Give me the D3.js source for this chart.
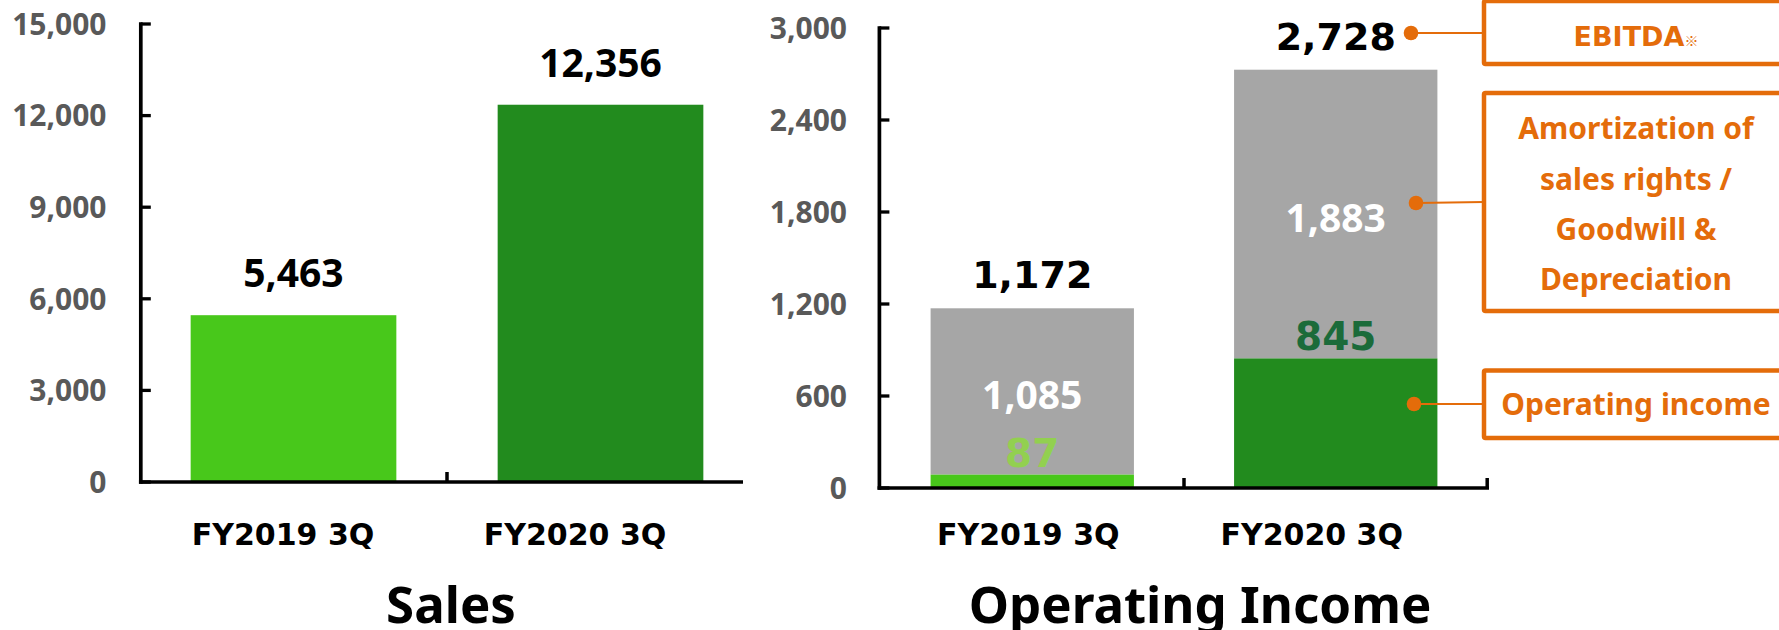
<!DOCTYPE html>
<html>
<head>
<meta charset="utf-8">
<script src="https://cdn.jsdelivr.net/npm/d3@7"></script>
<style>
  html, body { margin: 0; padding: 0; background: #ffffff; }
  svg { display: block; }
</style>
</head>
<body>
<svg id="chart" width="1779" height="630"></svg>
<script>
// ---------- data ----------
const categories = ["FY2019 3Q", "FY2020 3Q"];
const salesValues = [5463, 12356];
const salesTicks = [0, 3000, 6000, 9000, 12000, 15000];
const opIncomeValues = [87, 845];
const amortValues = [1085, 1883];
const ebitdaValues = [1172, 2728];
const opTicks = [0, 600, 1200, 1800, 2400, 3000];
const chartTitles = ["Sales", "Operating Income"];
const legendEbitda = "EBITDA";
const legendAmort = ["Amortization of", "sales rights /", "Goodwill &", "Depreciation"];
const legendOp = "Operating income";

// ---------- styles ----------
const C = {
  light: "#48C81B", dark: "#228B1E", gray: "#A6A6A6", orange: "#E46C0A",
  tick: "#595959", lbl87: "#92D050", lbl845: "#1B6B3A"
};
const NOTO = "'Noto Sans', 'Open Sans', sans-serif";
const DEJA = "'DejaVu Sans', Verdana, sans-serif";
const fmt = d3.format(",");
const svg = d3.select("#chart");
const AX = 3.7;

function drawAxes(g, x, y, ticks, axisX, axisEnd, endTick, labelRight) {
  const y0 = y(0);
  // y axis line
  g.append("line").attr("x1", axisX).attr("x2", axisX)
    .attr("y1", y(ticks[ticks.length - 1]) - AX / 2).attr("y2", y0 + AX / 2)
    .attr("stroke", "#000").attr("stroke-width", AX);
  // y ticks
  g.selectAll(".yt").data(ticks).join("line")
    .attr("x1", axisX).attr("x2", axisX + 10)
    .attr("y1", d => y(d)).attr("y2", d => y(d))
    .attr("stroke", "#000").attr("stroke-width", 3.3);
  g.selectAll(".yl").data(ticks).join("text")
    .attr("x", labelRight).attr("y", d => y(d) + 10.7)
    .attr("text-anchor", "end")
    .attr("font-family", NOTO).attr("font-weight", 700).attr("font-size", 30)
    .attr("fill", C.tick).text(d => fmt(d));
  // x axis line
  g.append("line").attr("x1", axisX - AX / 2).attr("x2", axisEnd)
    .attr("y1", y0).attr("y2", y0)
    .attr("stroke", "#000").attr("stroke-width", AX);
  // middle category separator tick
  const mid = (x(categories[0]) + x.bandwidth() + x(categories[1])) / 2;
  const sepTicks = endTick ? [mid, axisEnd - 1.8] : [mid];
  g.selectAll(".xt").data(sepTicks).join("line")
    .attr("x1", d => d).attr("x2", d => d)
    .attr("y1", y0 - 10).attr("y2", y0)
    .attr("stroke", "#000").attr("stroke-width", 3.5);
}

// ---------- Sales chart ----------
{
  const g = svg.append("g");
  const x = d3.scaleBand().domain(categories).range([140, 754])
    .paddingInner(0.33).paddingOuter(0.165);
  const y = d3.scaleLinear().domain([0, 15000]).range([482, 24]);
  const colors = [C.light, C.dark];
  g.selectAll(".bar").data(salesValues).join("rect")
    .attr("x", (d, i) => x(categories[i])).attr("width", x.bandwidth())
    .attr("y", d => y(d)).attr("height", d => y(0) - y(d))
    .attr("fill", (d, i) => colors[i]);
  drawAxes(g, x, y, salesTicks, 140.8, 743, false, 106.5);
  g.selectAll(".vl").data(salesValues).join("text")
    .attr("x", (d, i) => x(categories[i]) + x.bandwidth() / 2)
    .attr("y", d => y(d) - 28)
    .attr("text-anchor", "middle")
    .attr("font-family", NOTO).attr("font-weight", 700).attr("font-size", 39)
    .attr("fill", "#000").text(d => fmt(d));
  const nudge = [-10.5, -25.5];
  g.selectAll(".cl").data(categories).join("text")
    .attr("x", (d, i) => x(d) + x.bandwidth() / 2 + nudge[i]).attr("y", 544.5)
    .attr("text-anchor", "middle")
    .attr("font-family", DEJA).attr("font-weight", 700).attr("font-size", 30)
    .attr("fill", "#000").text(d => d);
  g.append("text").attr("x", 451).attr("y", 623)
    .attr("text-anchor", "middle")
    .attr("font-family", NOTO).attr("font-weight", 700).attr("font-size", 51)
    .attr("fill", "#000").text(chartTitles[0]);
}

// ---------- Operating income chart ----------
{
  const g = svg.append("g");
  const x = d3.scaleBand().domain(categories).range([879, 1489])
    .paddingInner(0.33).paddingOuter(0.17);
  const y = d3.scaleLinear().domain([0, 3000]).range([488, 28]);
  const baseColors = [C.light, C.dark];
  const stack = categories.map((c, i) => ({ c, op: opIncomeValues[i], am: amortValues[i], tot: ebitdaValues[i] }));
  // gray (amortization) segment on top of operating income
  g.selectAll(".am").data(stack).join("rect")
    .attr("x", d => x(d.c)).attr("width", x.bandwidth())
    .attr("y", d => y(d.op + d.am)).attr("height", d => y(d.op) - y(d.op + d.am))
    .attr("fill", C.gray);
  g.selectAll(".op").data(stack).join("rect")
    .attr("x", d => x(d.c)).attr("width", x.bandwidth())
    .attr("y", d => y(d.op)).attr("height", d => y(0) - y(d.op))
    .attr("fill", (d, i) => baseColors[i]);
  drawAxes(g, x, y, opTicks, 879.4, 1489, true, 847);
  const cx = d => x(d.c) + x.bandwidth() / 2;
  // EBITDA totals
  g.selectAll(".tl").data(stack).join("text")
    .attr("x", cx).attr("y", d => y(d.tot) - 20)
    .attr("text-anchor", "middle")
    .attr("font-family", DEJA).attr("font-weight", 700).attr("font-size", 38)
    .attr("fill", "#000").text(d => fmt(d.tot));
  // amortization labels
  g.selectAll(".al").data(stack).join("text")
    .attr("x", cx).attr("y", d => (y(d.op) + y(d.op + d.am)) / 2 + 18)
    .attr("text-anchor", "middle")
    .attr("font-family", NOTO).attr("font-weight", 700).attr("font-size", 39)
    .attr("fill", "#fff").text(d => fmt(d.am));
  // operating income labels
  const opLblColors = [C.lbl87, C.lbl845];
  g.selectAll(".ol").data(stack).join("text")
    .attr("x", cx).attr("y", d => y(d.op) - 8)
    .attr("text-anchor", "middle")
    .attr("font-family", DEJA).attr("font-weight", 700).attr("font-size", 39)
    .attr("fill", (d, i) => opLblColors[i]).text(d => fmt(d.op));
  const nudge = [-4, -24];
  g.selectAll(".cl").data(categories).join("text")
    .attr("x", (d, i) => x(d) + x.bandwidth() / 2 + nudge[i]).attr("y", 544.5)
    .attr("text-anchor", "middle")
    .attr("font-family", DEJA).attr("font-weight", 700).attr("font-size", 30)
    .attr("fill", "#000").text(d => d);
  g.append("text").attr("x", 1200).attr("y", 623)
    .attr("text-anchor", "middle")
    .attr("font-family", NOTO).attr("font-weight", 700).attr("font-size", 51)
    .attr("fill", "#000").text(chartTitles[1]);

  // ---------- annotation boxes ----------
  const boxX = 1484, textCX = 1636;
  const ann = g.append("g");
  const boxes = [[1, 64], [93, 311], [370.5, 438]];
  ann.selectAll(".box").data(boxes).join("rect")
    .attr("x", boxX).attr("y", d => d[0]).attr("width", 400).attr("height", d => d[1] - d[0])
    .attr("fill", "#fff").attr("stroke", C.orange).attr("stroke-width", 4.5)
    .attr("rx", 1.5);
  const dots = [[1411, 33, 33], [1416, 203, 202], [1414, 404, 404]];
  ann.selectAll(".lk").data(dots).join("line")
    .attr("x1", d => d[0]).attr("y1", d => d[1]).attr("x2", boxX).attr("y2", d => d[2])
    .attr("stroke", C.orange).attr("stroke-width", 2);
  ann.selectAll(".dot").data(dots).join("circle")
    .attr("cx", d => d[0]).attr("cy", d => d[1]).attr("r", 7.3)
    .attr("fill", C.orange);
  const eb = ann.append("text").attr("x", textCX).attr("y", 45.5)
    .attr("text-anchor", "middle").attr("fill", C.orange)
    .attr("font-family", DEJA).attr("font-weight", 700).attr("font-size", 27);
  eb.append("tspan").text(legendEbitda);
  eb.append("tspan").attr("font-size", 14).attr("font-weight", 400)
    .attr("font-family", "'Noto Sans CJK JP', sans-serif").text("※");
  const amBase = [138.6, 189.6, 240, 290];
  ann.selectAll(".amt").data(legendAmort).join("text")
    .attr("x", textCX).attr("y", (d, i) => amBase[i])
    .attr("text-anchor", "middle").attr("fill", C.orange)
    .attr("font-family", NOTO).attr("font-weight", 700).attr("font-size", 30)
    .text(d => d);
  ann.append("text").attr("x", textCX).attr("y", 415)
    .attr("text-anchor", "middle").attr("fill", C.orange)
    .attr("font-family", NOTO).attr("font-weight", 700).attr("font-size", 30)
    .text(legendOp);
}
</script>
</body>
</html>
